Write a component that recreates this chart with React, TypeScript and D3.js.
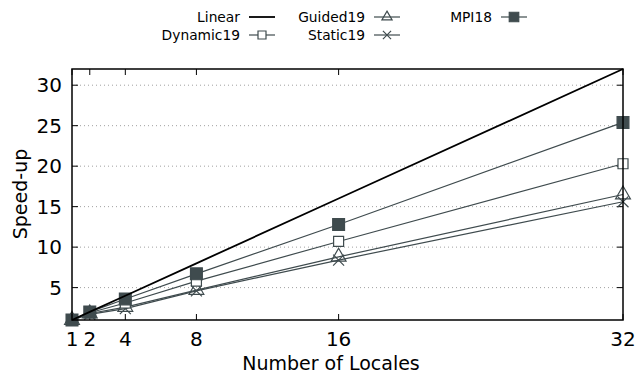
import React, { useRef, useEffect } from 'react';
import * as d3 from 'd3';

const locales = [1, 2, 4, 8, 16, 32];
const linear = [1, 2, 4, 8, 16, 32];
const dynamic19 = [1, 1.9, 3.1, 5.8, 10.7, 20.3];
const guided19 = [1, 1.8, 2.6, 4.7, 8.8, 16.5];
const static19 = [1, 1.7, 2.4, 4.6, 8.4, 15.6];
const mpi18 = [1, 2.0, 3.6, 6.7, 12.8, 25.4];
const yTicks = [5, 10, 15, 20, 25, 30];

const SERIES_COLOR = '#3f4b4e';

const App: React.FC = () => {
  const svgRef = useRef<SVGSVGElement>(null);

  useEffect(() => {
    if (!svgRef.current) return;
    const svg = d3.select(svgRef.current);
    svg.selectAll('*').remove();

    const margin = { top: 69, right: 12, bottom: 53, left: 72 };
    const width = 635;
    const height = 373;
    const innerWidth = width - margin.left - margin.right;
    const innerHeight = height - margin.top - margin.bottom;
    const font = 'DejaVu Sans, sans-serif';

    const g = svg.append('g').attr('transform', `translate(${margin.left},${margin.top})`);

    const xScale = d3.scaleLinear().domain([1, 32]).range([0, innerWidth]);
    const yScale = d3.scaleLinear().domain([1, 32]).range([innerHeight, 0]);

    // grid
    yTicks.forEach(t => {
      g.append('line')
        .attr('x1', 0).attr('x2', innerWidth)
        .attr('y1', yScale(t)).attr('y2', yScale(t))
        .attr('stroke', '#a0a0a0')
        .attr('stroke-width', 1)
        .attr('stroke-dasharray', '1,3');
    });

    // ticks (inner, mirrored)
    const tl = 6;
    locales.forEach(t => {
      const x = xScale(t);
      g.append('line').attr('x1', x).attr('x2', x).attr('y1', innerHeight).attr('y2', innerHeight - tl).attr('stroke', '#000');
      g.append('line').attr('x1', x).attr('x2', x).attr('y1', 0).attr('y2', tl).attr('stroke', '#000');
      g.append('text')
        .attr('x', x).attr('y', innerHeight + 26)
        .attr('text-anchor', 'middle')
        .attr('font-family', font).attr('font-size', '20px')
        .text(t);
    });
    yTicks.forEach(t => {
      const y = yScale(t);
      g.append('line').attr('x1', 0).attr('x2', tl).attr('y1', y).attr('y2', y).attr('stroke', '#000');
      g.append('line').attr('x1', innerWidth).attr('x2', innerWidth - tl).attr('y1', y).attr('y2', y).attr('stroke', '#000');
      g.append('text')
        .attr('x', -10).attr('y', y)
        .attr('dy', '0.36em')
        .attr('text-anchor', 'end')
        .attr('font-family', font).attr('font-size', '20px')
        .text(t);
    });

    const line = d3.line<number>()
      .x((_, i) => xScale(locales[i]))
      .y(d => yScale(d));

    const series = [
      { name: 'Static19', values: static19, symbol: d3.symbolX, fill: 'none', size: 80, legendSize: 45 },
      { name: 'Guided19', values: guided19, symbol: d3.symbolTriangle, fill: 'none', size: 95, legendSize: 45 },
      { name: 'Dynamic19', values: dynamic19, symbol: d3.symbolSquare, fill: '#fff', size: 100, legendSize: 64 },
      { name: 'MPI18', values: mpi18, symbol: d3.symbolSquare, fill: SERIES_COLOR, size: 140, legendSize: 90 },
    ];

    series.forEach(s => {
      g.append('path')
        .attr('d', line(s.values))
        .attr('fill', 'none')
        .attr('stroke', SERIES_COLOR)
        .attr('stroke-width', 1.2);
    });
    series.forEach(s => {
      const sym = d3.symbol().type(s.symbol).size(s.size);
      s.values.forEach((v, i) => {
        g.append('path')
          .attr('d', sym())
          .attr('transform', `translate(${xScale(locales[i])},${yScale(v)})`)
          .attr('fill', s.fill)
          .attr('stroke', SERIES_COLOR)
          .attr('stroke-width', 1.2);
      });
    });

    g.append('path')
      .attr('d', line(linear))
      .attr('fill', 'none')
      .attr('stroke', '#000')
      .attr('stroke-width', 1.8);

    // border
    g.append('rect')
      .attr('width', innerWidth).attr('height', innerHeight)
      .attr('fill', 'none').attr('stroke', '#000').attr('stroke-width', 1.5);

    // axis titles
    svg.append('text')
      .attr('x', 331).attr('y', 370)
      .attr('text-anchor', 'middle')
      .attr('font-family', font).attr('font-size', '19px')
      .text('Number of Locales');
    svg.append('text')
      .attr('transform', `translate(27,194) rotate(-90)`)
      .attr('text-anchor', 'middle')
      .attr('font-family', font).attr('font-size', '19px')
      .text('Speed-up');

    // legend
    const legend = [
      { name: 'Linear', textX: 240, y: 17, kind: 'linear' },
      { name: 'Dynamic19', textX: 240, y: 35, kind: 'Dynamic19' },
      { name: 'Guided19', textX: 365, y: 17, kind: 'Guided19' },
      { name: 'Static19', textX: 365, y: 35, kind: 'Static19' },
      { name: 'MPI18', textX: 492, y: 17, kind: 'MPI18' },
    ];
    legend.forEach(l => {
      svg.append('text')
        .attr('x', l.textX).attr('y', l.y)
        .attr('dy', '0.36em')
        .attr('text-anchor', 'end')
        .attr('font-family', font).attr('font-size', '13.8px')
        .text(l.name);
      const x0 = l.textX + 9;
      const x1 = x0 + 26;
      if (l.kind === 'linear') {
        svg.append('line').attr('x1', x0).attr('x2', x1).attr('y1', l.y).attr('y2', l.y)
          .attr('stroke', '#000').attr('stroke-width', 1.8);
      } else {
        const s = series.find(d => d.name === l.kind)!;
        svg.append('line').attr('x1', x0).attr('x2', x1).attr('y1', l.y).attr('y2', l.y)
          .attr('stroke', SERIES_COLOR).attr('stroke-width', 1.2);
        svg.append('path')
          .attr('d', d3.symbol().type(s.symbol).size(s.legendSize)())
          .attr('transform', `translate(${(x0 + x1) / 2},${l.y})`)
          .attr('fill', s.fill)
          .attr('stroke', SERIES_COLOR)
          .attr('stroke-width', 1.2);
      }
    });
  }, []);

  return (
    <svg
      ref={svgRef}
      width={635}
      height={373}
      style={{ position: 'absolute', left: 0, top: 0, background: '#fff' }}
    />
  );
};

export default App;
